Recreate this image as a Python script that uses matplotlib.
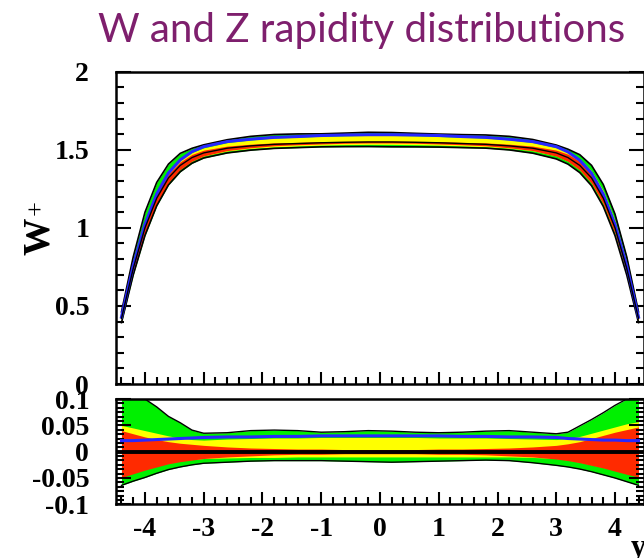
import matplotlib
matplotlib.use("Agg")
import matplotlib.pyplot as plt
from matplotlib.ticker import MultipleLocator, FixedLocator, FuncFormatter

# rapidity sample points
rapidity = [-4.4, -4.2, -4.0, -3.8, -3.6, -3.4, -3.2, -3.0, -2.6, -2.2, -1.8, -1.4, -1.0, -0.6, -0.2,
            0.2, 0.6, 1.0, 1.4, 1.8, 2.2, 2.6, 3.0, 3.2, 3.4, 3.6, 3.8, 4.0, 4.2, 4.4]

# central W+ prediction
central = [0.42, 0.74, 1.00, 1.19, 1.32, 1.40, 1.45, 1.48, 1.51, 1.525, 1.535, 1.54, 1.545, 1.548, 1.55,
           1.55, 1.548, 1.545, 1.54, 1.535, 1.525, 1.51, 1.48, 1.45, 1.40, 1.32, 1.19, 1.00, 0.74, 0.42]

# relative uncertainty bands (ratio to central - 1)
green_hi = [0.100, 0.100, 0.100, 0.085, 0.067, 0.055, 0.041, 0.035, 0.036, 0.040, 0.041, 0.040, 0.037, 0.038, 0.040,
            0.039, 0.037, 0.036, 0.037, 0.039, 0.040, 0.037, 0.034, 0.037, 0.049, 0.061, 0.074, 0.088, 0.100, 0.100]
green_lo = [-0.064, -0.056, -0.049, -0.041, -0.034, -0.029, -0.025, -0.022, -0.020, -0.018, -0.017, -0.017, -0.017,
            -0.018, -0.019, -0.020, -0.019, -0.018, -0.017, -0.016, -0.017, -0.021, -0.026, -0.029, -0.033, -0.038,
            -0.044, -0.050, -0.057, -0.064]
yellow_hi = [0.050, 0.045, 0.040, 0.035, 0.030, 0.026, 0.023, 0.022, 0.024, 0.025, 0.026, 0.026, 0.027, 0.027, 0.027,
             0.027, 0.027, 0.026, 0.026, 0.026, 0.025, 0.024, 0.023, 0.025, 0.029, 0.035, 0.041, 0.047, 0.053, 0.057]
yellow_lo = [-0.045, -0.039, -0.033, -0.027, -0.021, -0.017, -0.015, -0.013, -0.012, -0.011, -0.011, -0.010, -0.010,
             -0.010, -0.010, -0.010, -0.010, -0.010, -0.010, -0.010, -0.010, -0.011, -0.013, -0.016, -0.020, -0.025,
             -0.030, -0.035, -0.041, -0.046]
red_hi = [0.040, 0.034, 0.028, 0.023, 0.019, 0.016, 0.014, 0.012, 0.009, 0.007, 0.006, 0.005, 0.005, 0.004, 0.004,
          0.004, 0.004, 0.005, 0.005, 0.006, 0.007, 0.009, 0.012, 0.015, 0.019, 0.025, 0.031, 0.037, 0.042, 0.047]
red_lo = [-0.049, -0.042, -0.035, -0.029, -0.023, -0.019, -0.016, -0.013, -0.010, -0.008, -0.006, -0.005, -0.005,
          -0.004, -0.004, -0.004, -0.004, -0.005, -0.005, -0.006, -0.008, -0.010, -0.014, -0.017, -0.021, -0.026,
          -0.031, -0.037, -0.043, -0.048]
blue_line = [0.021, 0.021, 0.022, 0.023, 0.024, 0.025, 0.026, 0.027, 0.028, 0.028, 0.029, 0.029, 0.030, 0.030, 0.030,
             0.030, 0.030, 0.030, 0.029, 0.029, 0.028, 0.028, 0.027, 0.025, 0.024, 0.023, 0.022, 0.022, 0.021, 0.021]

top_yticks = [0, 0.5, 1, 1.5, 2]
ratio_yticks = [-0.1, -0.05, 0, 0.05, 0.1]
xticks = [-4, -3, -2, -1, 0, 1, 2, 3, 4]

GREEN = "#00f000"
YELLOW = "#ffff00"
RED = "#ff2a00"
BLUE = "#2828ff"
TITLE_COLOR = "#7e1f6d"

plt.rcParams["axes.unicode_minus"] = False
tick_font = {"family": "Liberation Serif", "weight": "bold", "size": 20}


def scaled(rel):
    return [c * (1 + r) for c, r in zip(central, rel)]


def style_axis(ax, ylocs, yminor):
    for s in ax.spines.values():
        s.set_linewidth(1.8)
    ax.yaxis.set_major_locator(FixedLocator(ylocs))
    ax.yaxis.set_minor_locator(MultipleLocator(yminor))
    ax.xaxis.set_major_locator(FixedLocator(xticks))
    ax.xaxis.set_minor_locator(MultipleLocator(0.2))
    ax.tick_params(axis="y", which="both", direction="in", left=True, right=True, width=1.5, pad=19)
    ax.tick_params(axis="y", which="major", length=11)
    ax.tick_params(axis="y", which="minor", length=6)
    ax.tick_params(axis="x", which="both", direction="in", bottom=True, top=False, width=1.5, pad=9)
    ax.tick_params(axis="x", which="major", length=9)
    ax.tick_params(axis="x", which="minor", length=5)
    ax.yaxis.set_major_formatter(FuncFormatter(lambda v, p: "%g" % v))
    for lab in ax.get_yticklabels() + ax.get_xticklabels():
        lab.set_fontproperties(tick_font)


fig = plt.figure(figsize=(6.44, 5.58), dpi=100)

# main distribution
ax = fig.add_axes([0.1795, 0.3118, 0.8211, 0.5597])
ax.fill_between(rapidity, scaled(green_lo), scaled(green_hi), color=GREEN, lw=0)
ax.plot(rapidity, scaled(green_hi), color="black", lw=1.2)
ax.plot(rapidity, scaled(green_lo), color="black", lw=1.2)
ax.fill_between(rapidity, scaled(yellow_lo), scaled(yellow_hi), color=YELLOW, lw=0)
ax.fill_between(rapidity, scaled(red_lo), scaled(red_hi), color=RED, lw=0)
ax.plot(rapidity, scaled(blue_line), color=BLUE, lw=2.2)
ax.plot(rapidity, central, color="black", lw=1.0)
ax.set_xlim(-4.5, 4.5)
ax.set_ylim(0, 2)
style_axis(ax, top_yticks, 0.1)
ax.tick_params(axis="x", labelbottom=False)

# ratio panel
rax = fig.add_axes([0.1795, 0.0962, 0.8211, 0.1887])
rax.fill_between(rapidity, green_lo, green_hi, color=GREEN, lw=0)
rax.plot(rapidity, green_hi, color="black", lw=1.0)
rax.plot(rapidity, green_lo, color="black", lw=1.0)
rax.fill_between(rapidity, yellow_lo, yellow_hi, color=YELLOW, lw=0)
rax.fill_between(rapidity, red_lo, red_hi, color=RED, lw=0)
rax.plot(rapidity, blue_line, color=BLUE, lw=2.2)
rax.axhline(0, color="black", lw=2.8)
rax.set_xlim(-4.5, 4.5)
rax.set_ylim(-0.1, 0.1)
style_axis(rax, ratio_yticks, 0.05 / 6)
rax.xaxis.set_major_formatter(FuncFormatter(lambda v, p: "%d" % v))
for lab in rax.get_xticklabels():
    lab.set_fontproperties(tick_font)

# y axis title W+ (superscript plus drawn separately)
fig.text(40 / 644, 1 - 236 / 558, "W", rotation=90, ha="center", va="center",
         family="Liberation Serif", weight="bold", fontsize=27)
fig.text(37 / 644, 1 - 208 / 558, "+", rotation=90, ha="center", va="center",
         family="Liberation Serif", fontsize=19)
fig.text(631 / 644, 2 / 558, "y", ha="left", va="baseline",
         family="Liberation Serif", weight="bold", fontsize=22)

fig.text(362 / 644, 0.945, "W and Z rapidity distributions", ha="center", va="center",
         family="Lato", fontsize=29, color=TITLE_COLOR)

fig.savefig("out.png", dpi=100)
